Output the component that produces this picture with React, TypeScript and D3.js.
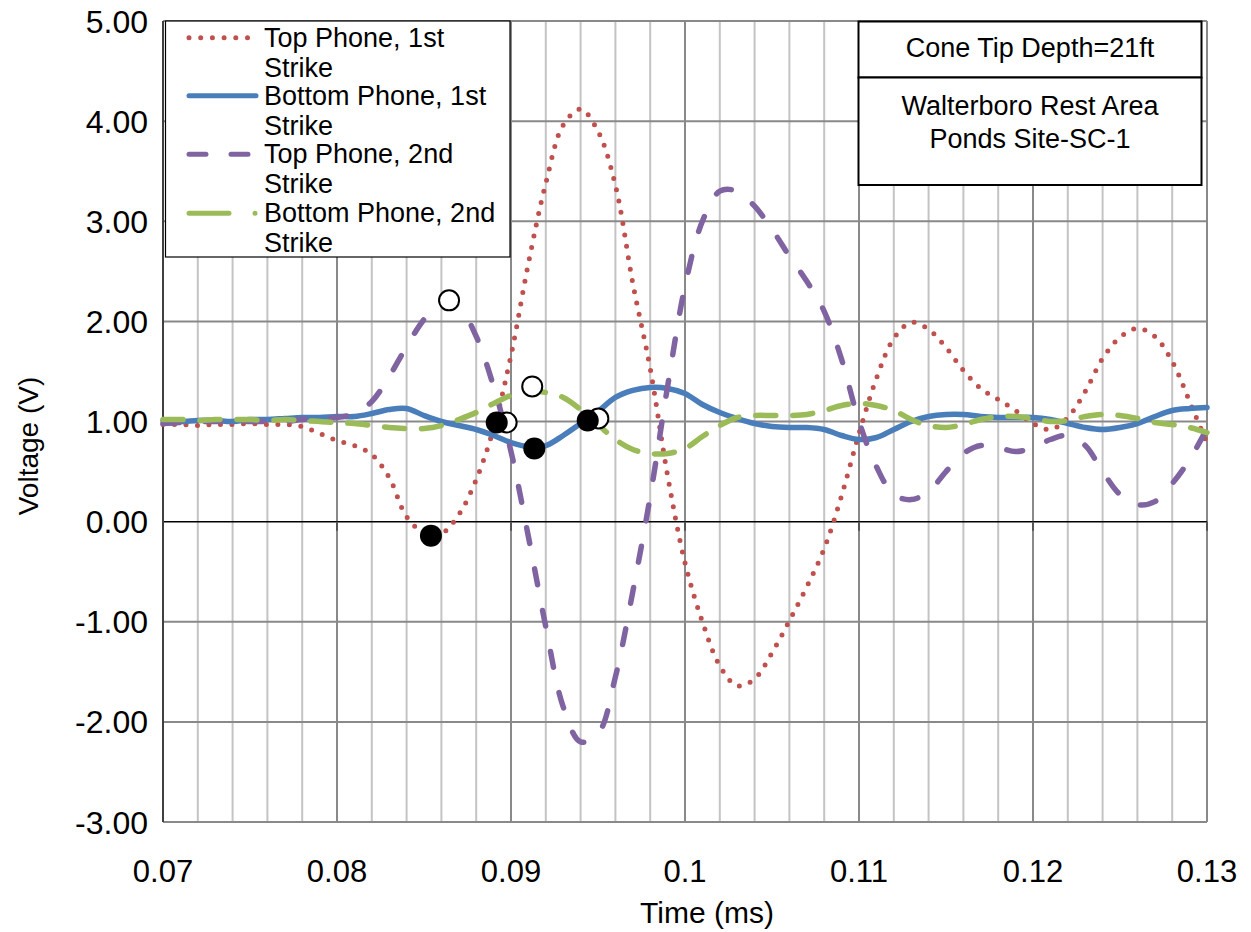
import * as d3 from "d3";

const times = [
  0.07, 0.071, 0.072, 0.073, 0.074, 0.075, 0.076, 0.077, 0.078, 0.079,
  0.08, 0.081, 0.082, 0.083, 0.084, 0.085, 0.086, 0.087, 0.088, 0.089,
  0.09, 0.091, 0.092, 0.093, 0.094, 0.095, 0.096, 0.097, 0.098, 0.099,
  0.1, 0.101, 0.102, 0.103, 0.104, 0.105, 0.106, 0.107, 0.108, 0.109,
  0.11, 0.111, 0.112, 0.113, 0.114, 0.115, 0.116, 0.117, 0.118, 0.119,
  0.12, 0.121, 0.122, 0.123, 0.124, 0.125, 0.126, 0.127, 0.128, 0.129,
  0.13,
];

const topFirst = [
  0.97, 0.97, 0.96, 0.97, 0.97, 0.98, 0.97, 0.97, 0.95, 0.88,
  0.81, 0.76, 0.67, 0.44, 0.05, -0.11, -0.12, 0.07, 0.42, 0.93,
  1.66, 2.58, 3.38, 3.96, 4.12, 3.9, 3.36, 2.38, 1.53, 0.46,
  -0.41, -1.0, -1.44, -1.64, -1.57, -1.31, -0.99, -0.65, -0.27, 0.26,
  0.88, 1.43, 1.83, 1.99, 1.92, 1.74, 1.51, 1.33, 1.22, 1.11,
  0.98, 0.92, 1.04, 1.3, 1.63, 1.84, 1.93, 1.85, 1.6, 1.2,
  0.78,
];

const bottomFirst = [
  1.01, 1.0, 1.01, 1.01, 1.0, 1.02, 1.02, 1.03, 1.04, 1.04,
  1.05, 1.05, 1.08, 1.12, 1.13, 1.06, 1.0, 0.96, 0.92, 0.86,
  0.79, 0.75, 0.76, 0.86, 0.98, 1.1, 1.24, 1.31, 1.34, 1.33,
  1.28, 1.17, 1.09, 1.03, 0.98, 0.95, 0.94, 0.94, 0.92, 0.86,
  0.82, 0.84, 0.92, 1.0, 1.05, 1.07, 1.07, 1.05, 1.04, 1.04,
  1.04, 1.02, 0.98, 0.94, 0.92, 0.94, 0.98, 1.05, 1.11, 1.13,
  1.14,
];

const topSecond = [
  0.98, 0.99, 1.0, 1.0, 1.0, 1.0, 1.0, 1.0, 1.02, 1.03,
  1.04, 1.08, 1.2, 1.45, 1.75, 2.02, 2.2, 2.15, 1.85, 1.35,
  0.7, -0.15, -1.05, -1.85, -2.2, -2.12, -1.55, -0.7, 0.25, 1.35,
  2.35, 3.0, 3.3, 3.3, 3.15, 2.92, 2.65, 2.4, 2.1, 1.62,
  1.0, 0.55, 0.27, 0.22, 0.3, 0.5, 0.68, 0.76, 0.74, 0.7,
  0.74, 0.82, 0.86, 0.76, 0.5, 0.27, 0.17, 0.2, 0.38, 0.62,
  0.93,
];

const bottomSecond = [
  1.02, 1.02, 1.01, 1.02, 1.02, 1.02, 1.01, 1.02, 1.01, 1.0,
  0.99, 0.98, 0.96, 0.94, 0.93, 0.93, 0.96, 1.02, 1.09, 1.18,
  1.26, 1.3, 1.29, 1.24, 1.12, 0.97, 0.82, 0.72, 0.68, 0.68,
  0.73, 0.85, 0.96, 1.04, 1.06, 1.06, 1.06, 1.07, 1.11, 1.16,
  1.18, 1.16, 1.11, 1.02, 0.96, 0.94, 0.97, 1.02, 1.05, 1.05,
  1.03, 1.0, 1.01, 1.05, 1.07, 1.06, 1.03, 0.99, 0.97, 0.94,
  0.89,
];

// picked arrival points
const openPts = [
  { t: 0.08644, v: 2.21 },
  { t: 0.08975, v: 0.99 },
  { t: 0.09122, v: 1.35 },
  { t: 0.09502, v: 1.03 },
];
const filledPts = [
  { t: 0.0854, v: -0.14 },
  { t: 0.08918, v: 0.99 },
  { t: 0.09134, v: 0.73 },
  { t: 0.09441, v: 1.01 },
];

const seriesNames = [
  "Top Phone, 1st",
  "Bottom Phone, 1st",
  "Top Phone, 2nd",
  "Bottom Phone, 2nd",
];
const xTickLabels = ["0.07", "0.08", "0.09", "0.1", "0.11", "0.12", "0.13"];
const yTicks = [-3, -2, -1, 0, 1, 2, 3, 4, 5];

const FONT = "'Liberation Sans', Arial, sans-serif";

export default function App() {
  const W = 1251;
  const H = 932;
  const x = d3.scaleLinear().domain([0.07, 0.13]).range([163, 1207]);
  const y = d3.scaleLinear().domain([-3, 5]).range([822, 21]);

  const line = d3
    .line<number>()
    .x((_, i) => x(times[i]))
    .y((d) => y(d))
    .curve(d3.curveCatmullRom.alpha(0.5));

  const series = [
    { data: topFirst, color: "#c0504d", width: 5, dash: "0 11.5" },
    { data: bottomFirst, color: "#4a7ebb", width: 5.5, dash: undefined },
    { data: topSecond, color: "#8064a2", width: 5.5, dash: "16 26" },
    { data: bottomSecond, color: "#9bbb59", width: 5.5, dash: "20 17" },
  ];

  const minorX = d3.range(0, 31).map((i) => 0.07 + i * 0.002);
  const fmt = (v: number) => d3.format(".2f")(v).replace("\u2212", "-");

  const legendY = [37.7, 95.7, 154.3, 213.3];

  return (
    <svg
      width={W}
      height={H}
      style={{ position: "absolute", left: 0, top: 0, background: "white" }}
      fontFamily={FONT}
    >
      {/* vertical grid */}
      {minorX.map((t, i) => (
        <line
          key={"vx" + i}
          x1={x(t)}
          x2={x(t)}
          y1={y(5)}
          y2={y(-3)}
          stroke={i % 5 === 0 ? "#898989" : "#c4c4c4"}
          strokeWidth={2}
        />
      ))}
      {/* horizontal grid */}
      {yTicks.map((v) => (
        <line
          key={"hy" + v}
          x1={x(0.07)}
          x2={x(0.13)}
          y1={y(v)}
          y2={y(v)}
          stroke={v === 0 ? "#000" : "#898989"}
          strokeWidth={v === 0 ? 1.5 : 2}
        />
      ))}
      {/* x axis ticks on zero line */}
      {xTickLabels.map((_, i) => (
        <line
          key={"xt" + i}
          x1={x(0.07 + i * 0.01)}
          x2={x(0.07 + i * 0.01)}
          y1={y(0)}
          y2={y(0) + 9}
          stroke="#555"
          strokeWidth={2}
        />
      ))}
      {/* left axis */}
      <line x1={x(0.07)} x2={x(0.07)} y1={y(5)} y2={y(-3)} stroke="#404040" strokeWidth={2} />

      {/* series */}
      {series.map((s, i) => (
        <path
          key={"s" + i}
          d={line(s.data) || ""}
          fill="none"
          stroke={s.color}
          strokeWidth={s.width}
          strokeDasharray={s.dash}
          strokeLinecap="round"
          strokeLinejoin="round"
        />
      ))}

      {/* markers */}
      {openPts.map((p, i) => (
        <circle key={"o" + i} cx={x(p.t)} cy={y(p.v)} r={10} fill="white" stroke="#000" strokeWidth={2} />
      ))}
      {filledPts.map((p, i) => (
        <circle key={"f" + i} cx={x(p.t)} cy={y(p.v)} r={11} fill="#000" />
      ))}

      {/* y labels */}
      {yTicks.map((v) => (
        <text key={"yl" + v} x={148} y={y(v)} dy="0.36em" textAnchor="end" fontSize={32}>
          {fmt(v)}
        </text>
      ))}
      {/* x labels */}
      {xTickLabels.map((l, i) => (
        <text key={"xl" + i} x={x(0.07 + i * 0.01)} y={882} textAnchor="middle" fontSize={31}>
          {l}
        </text>
      ))}
      <text x={707} y={923} textAnchor="middle" fontSize={30}>
        Time (ms)
      </text>
      <text transform="translate(38,446) rotate(-90)" textAnchor="middle" fontSize={28}>
        Voltage (V)
      </text>

      {/* legend */}
      <rect x={165.5} y={21} width={344.5} height={236} fill="white" stroke="#000" strokeWidth={1.2} />
      {series.map((s, i) => (
        <g key={"lg" + i}>
          {i === 3 ? (
            <line
              x1={189}
              x2={256}
              y1={legendY[i]}
              y2={legendY[i]}
              stroke={s.color}
              strokeWidth={5}
              strokeLinecap="round"
              strokeDasharray="40 26 0 100"
            />
          ) : (
            <line
              x1={189}
              x2={i === 1 ? 256 : 248}
              y1={legendY[i]}
              y2={legendY[i]}
              stroke={s.color}
              strokeWidth={5}
              strokeLinecap="round"
              strokeDasharray={i === 0 ? "0 11.7" : i === 2 ? "17 25" : undefined}
            />
          )}
          <text x={264} y={legendY[i] + 9} fontSize={27}>
            {seriesNames[i]}
          </text>
          <text x={264} y={legendY[i] + 39} fontSize={27}>
            Strike
          </text>
        </g>
      ))}

      {/* site labels */}
      <rect x={858.5} y={21.5} width={343} height={56} fill="white" stroke="#000" strokeWidth={2} />
      <text x={1030} y={57} textAnchor="middle" fontSize={27}>
        Cone Tip Depth=21ft
      </text>
      <rect x={858.5} y={77.5} width={343} height={107.5} fill="white" stroke="#000" strokeWidth={2} />
      <text x={1030} y={115} textAnchor="middle" fontSize={27}>
        Walterboro Rest Area
      </text>
      <text x={1030} y={148} textAnchor="middle" fontSize={27}>
        Ponds Site-SC-1
      </text>
    </svg>
  );
}
